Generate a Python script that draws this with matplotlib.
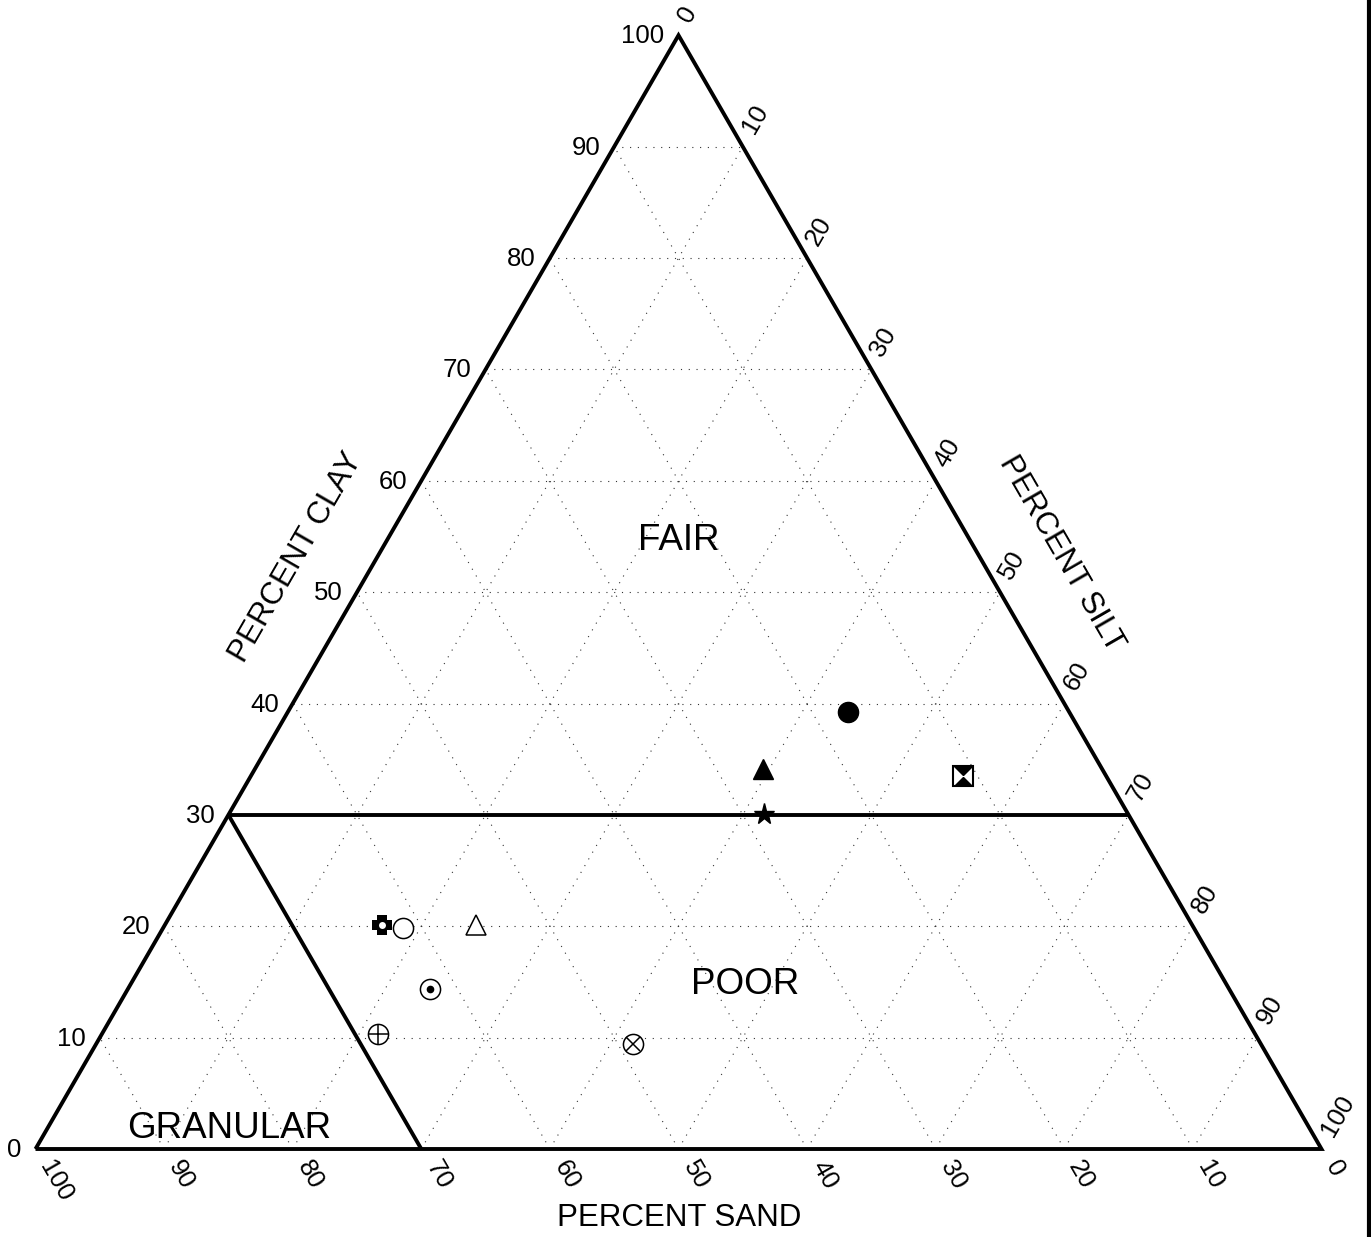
import numpy as np
import matplotlib
matplotlib.use("Agg")
import matplotlib.pyplot as plt
from matplotlib.transforms import offset_copy
from matplotlib.lines import Line2D

plt.rcParams["font.family"] = ["Liberation Sans", "DejaVu Sans"]

# ---- data -------------------------------------------------------------
tick_values = [0, 10, 20, 30, 40, 50, 60, 70, 80, 90, 100]
grid_values = [10, 20, 30, 40, 50, 60, 70, 80, 90]

# sample compositions (percent)
sample_sand = [17.2, 26.4, 11.1, 28.3, 63.0, 61.5, 55.7, 62.1, 68.2, 48.8]
sample_silt = [43.6, 39.5, 55.4, 41.6, 16.9, 18.7, 24.2, 23.5, 21.5, 41.8]
sample_clay = [39.2, 34.1, 33.5, 30.1, 20.1, 19.8, 20.1, 14.4, 10.3, 9.4]
sample_symbols = ["dot_filled", "tri_filled", "hourglass", "star", "cross_hole",
                  "circle_open", "tri_open", "circle_dot", "circle_plus", "circle_x"]

# class boundaries
fair_min_clay = 30
granular_max_sand_limit = 70

region_labels = ["FAIR", "POOR", "GRANULAR"]
region_pos_px = [(679, 541), (745, 984), (229, 1128)]

SQ3 = np.sqrt(3) / 2


def tern(sand, silt, clay):
    sand = np.asarray(sand, float)
    silt = np.asarray(silt, float)
    clay = np.asarray(clay, float)
    x = (silt + clay / 2.0) / 100.0
    y = clay / 100.0 * SQ3
    return x, y


# ---- figure -----------------------------------------------------------
W, H = 1371, 1237
fig = plt.figure(figsize=(W / 100, H / 100), dpi=100)
ax = fig.add_axes([0, 0, 1, 1])
ox, oy, scale = 35.5, 1149.0, 1286.0
ax.set_xlim(-ox / scale, (W - ox) / scale)
ax.set_ylim((oy - H) / scale, oy / scale)
ax.set_aspect("auto")
ax.axis("off")


def px(p):
    return (p[0] - ox) / scale, (oy - p[1]) / scale


grid_kw = dict(color="#333333", lw=0.8, linestyle=(0, (1, 6)), zorder=1)
for v in grid_values:
    # constant clay
    x, y = tern([100 - v, 0], [0, 100 - v], [v, v])
    ax.plot(x, y, **grid_kw)
    # constant sand
    x, y = tern([v, v], [100 - v, 0], [0, 100 - v])
    ax.plot(x, y, **grid_kw)
    # constant silt
    x, y = tern([100 - v, 0], [v, v], [0, 100 - v])
    ax.plot(x, y, **grid_kw)

edge_kw = dict(color="black", lw=2.8, solid_capstyle="butt", solid_joinstyle="miter", zorder=3)
x, y = tern([100, 0, 0, 100], [0, 100, 0, 0], [0, 0, 100, 0])
ax.plot(x, y, **edge_kw)

# FAIR / POOR boundary
x, y = tern([100 - fair_min_clay, 0], [0, 100 - fair_min_clay], [fair_min_clay, fair_min_clay])
ax.plot(x, y, **edge_kw)
# GRANULAR boundary
g = granular_max_sand_limit
x, y = tern([g, g], [100 - g, 0], [0, 100 - g])
ax.plot(x, y, **edge_kw)

# ---- tick labels ------------------------------------------------------
tick_fs = 18.5
t_clay = offset_copy(ax.transData, fig=fig, x=-14, y=-1, units="dots")
t_sand = offset_copy(ax.transData, fig=fig, x=10, y=-13, units="dots")
t_silt = offset_copy(ax.transData, fig=fig, x=5, y=15, units="dots")
for v in tick_values:
    x, y = tern(100 - v, 0, v)
    ax.text(x, y, str(v), transform=t_clay, ha="right", va="center", fontsize=tick_fs)
    x, y = tern(v, 100 - v, 0)
    ax.text(x, y, str(v), transform=t_sand, ha="left", va="center", rotation=-60,
            rotation_mode="anchor", fontsize=tick_fs)
    x, y = tern(0, v, 100 - v)
    ax.text(x, y, str(v), transform=t_silt, ha="left", va="center", rotation=60,
            rotation_mode="anchor", fontsize=tick_fs)

# ---- axis titles ------------------------------------------------------
title_fs = 22.5
ax.text(*px((679, 1218)), "PERCENT SAND", ha="center", va="center", fontsize=title_fs)
ax.text(*px((296, 557)), "PERCENT CLAY", ha="center", va="center", rotation=60,
        rotation_mode="anchor", fontsize=title_fs)
ax.text(*px((1061, 554)), "PERCENT SILT", ha="center", va="center", rotation=-60,
        rotation_mode="anchor", fontsize=title_fs)

for lab, p in zip(region_labels, region_pos_px):
    ax.text(*px(p), lab, ha="center", va="center", fontsize=26.5, zorder=2)

# ---- sample symbols ---------------------------------------------------
ms = 14.5
hourglass = [(-1, 1), (1, 1), (-1, -1), (1, -1), (-1, 1)]
a = 0.5
cross = [(-a, -1), (a, -1), (a, -a), (1, -a), (1, a), (a, a), (a, 1), (-a, 1),
         (-a, a), (-1, a), (-1, -a), (-a, -a), (-a, -1)]

sx, sy = tern(sample_sand, sample_silt, sample_clay)
for xi, yi, sym in zip(sx, sy, sample_symbols):
    kw = dict(linestyle="none", zorder=5)
    if sym == "dot_filled":
        ax.plot(xi, yi, marker="o", ms=ms, color="black", **kw)
    elif sym == "tri_filled":
        ax.plot(xi, yi, marker="^", ms=ms, color="black", **kw)
    elif sym == "hourglass":
        ax.plot(xi, yi, marker="s", ms=ms, mfc="white", mec="black", mew=1.5, **kw)
        ax.plot(xi, yi, marker=hourglass, ms=ms, color="black", mew=0, **kw)
    elif sym == "star":
        ax.plot(xi, yi, marker="*", ms=ms + 1, color="black", **kw)
    elif sym == "cross_hole":
        ax.plot(xi, yi, marker=cross, ms=ms, color="black", mew=0, **kw)
        ax.plot(xi, yi, marker="o", ms=5, mfc="white", mew=0, **kw)
    elif sym == "circle_open":
        ax.plot(xi, yi, marker="o", ms=ms, mfc="white", mec="black", mew=1.1, **kw)
    elif sym == "tri_open":
        ax.plot(xi, yi, marker="^", ms=ms, mfc="white", mec="black", mew=1.1, **kw)
    elif sym == "circle_dot":
        ax.plot(xi, yi, marker="o", ms=ms, mfc="white", mec="black", mew=1.1, **kw)
        ax.plot(xi, yi, marker="o", ms=4.5, color="black", **kw)
    elif sym == "circle_plus":
        ax.plot(xi, yi, marker="o", ms=ms, mfc="white", mec="black", mew=1.1, **kw)
        ax.plot(xi, yi, marker="+", ms=ms, mec="black", mew=1.1, **kw)
    elif sym == "circle_x":
        ax.plot(xi, yi, marker="o", ms=ms, mfc="white", mec="black", mew=1.1, **kw)
        ax.plot(xi, yi, marker="x", ms=ms * 0.707, mec="black", mew=1.1, **kw)

# right-hand frame rule
fig.add_artist(Line2D([1369 / W, 1369 / W], [0, 1], color="black", lw=3.0,
                      transform=fig.transFigure))

fig.savefig("out.png", dpi=100)
